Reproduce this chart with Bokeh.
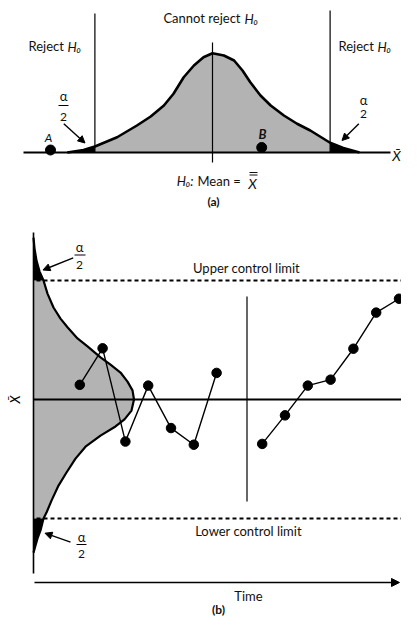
import numpy as np
from bokeh.plotting import figure
from bokeh.models import Range1d, Arrow, NormalHead
from bokeh.core.properties import value
from bokeh.embed import file_html
from bokeh.resources import INLINE

# ---------------- data ----------------
# panel (a): sampling distribution of the mean (z units, density)
curve_a_z = [-2.42, -2.15, -1.96, -1.59, -1.26, -1.03, -0.81, -0.65, -0.48, -0.31, -0.15, 0.0,
             0.19, 0.36, 0.50, 0.63, 0.80, 0.97, 1.19, 1.41, 1.63, 1.96, 2.18, 2.45]
curve_a_d = [0.0, 0.010, 0.024, 0.061, 0.108, 0.144, 0.188, 0.235, 0.301, 0.348, 0.381, 0.397,
             0.388, 0.368, 0.328, 0.281, 0.228, 0.188, 0.148, 0.115, 0.088, 0.039, 0.018, 0.0]
critical_z = [-1.96, 1.96]
sample_z = [-2.70, 0.82]
sample_d = [0.010, 0.020]
sample_labels = ["A", "B"]

# panel (b): control chart
times_1 = [1, 2, 3, 4, 5, 6, 7]
values_1 = [0.37, 1.29, -1.06, 0.35, -0.72, -1.14, 0.67]
times_2 = [9, 10, 11, 12, 13, 14, 15]
values_2 = [-1.12, -0.40, 0.35, 0.50, 1.28, 2.19, 2.54]
ucl, center, lcl = 3.0, 0.0, -3.0
# sideways distribution on the value axis (value, density)
side_v = [4.08, 3.81, 3.50, 3.23, 3.0, 2.67, 2.32, 2.04, 1.82, 1.54, 1.34, 1.06, 0.88, 0.68, 0.45,
          0.23, 0.0, -0.28, -0.50, -0.68, -0.91, -1.19, -1.49, -1.84, -2.17, -2.55, -2.85, -3.0,
          -3.30, -3.50, -3.68, -3.86]
side_d = [0.0, 0.004, 0.012, 0.024, 0.040, 0.056, 0.080, 0.108, 0.136, 0.176, 0.216, 0.268, 0.308,
          0.348, 0.376, 0.396, 0.402, 0.392, 0.364, 0.328, 0.268, 0.208, 0.168, 0.132, 0.100, 0.072,
          0.052, 0.040, 0.028, 0.016, 0.008, 0.0]

# ---------------- figure ----------------
W, H = 401, 617
X0, X1 = 0, 401
Y0, Y1 = 617, 0
p = figure(width=W, height=H, x_range=Range1d(X0, X1), y_range=Range1d(Y0, Y1),
           output_backend="svg", toolbar_location=None, min_border=0,
           x_axis_type=None, y_axis_type=None)
p.grid.visible = False
p.outline_line_color = None
p.background_fill_color = "white"

# data ranges laid over the frame
ax_c, ax_s = 212.0, 60.0      # panel a: z -> px
ay_b, ay_s = 152.0, 250.0     # panel a: density -> px
bt_0, bt_s = 79.3, 22.8       # panel b: time -> px
bv_0, bv_s = 399.0, 39.67     # panel b: value -> px
bd_0, bd_s = 33.0, 250.0      # panel b: density -> px
p.extra_x_ranges = {
    "a_x": Range1d((X0 - ax_c) / ax_s, (X1 - ax_c) / ax_s),
    "b_t": Range1d((X0 - bt_0) / bt_s + 1, (X1 - bt_0) / bt_s + 1),
    "b_d": Range1d((X0 - bd_0) / bd_s, (X1 - bd_0) / bd_s),
}
p.extra_y_ranges = {
    "a_y": Range1d((ay_b - Y0) / ay_s, (ay_b - Y1) / ay_s),
    "b_v": Range1d((bv_0 - Y0) / bv_s, (bv_0 - Y1) / bv_s),
}

GRAY = "#b3b3b3"
FONT = value("Lato")


def txt(x, y, s, size="13px", style="normal", align="center"):
    p.text(x=[x], y=[y], text=[s], text_font=FONT, text_font_size=size,
           text_font_style=style, text_align=align, text_baseline="middle", text_color="#111111")


def arrow(xs, ys, xe, ye, size=7):
    p.add_layout(Arrow(end=NormalHead(size=size, fill_color="black", line_color="black"),
                       x_start=xs, y_start=ys, x_end=xe, y_end=ye, line_width=1.4, line_color="black"))


# ---------------- panel (a) ----------------
za = np.array(curve_a_z)
da = np.array(curve_a_d)
lo, hi = critical_z
m_mid = (za >= lo) & (za <= hi)
m_left = za <= lo
m_right = za >= hi
p.varea(x=za[m_mid], y1=0, y2=da[m_mid], fill_color=GRAY, x_range_name="a_x", y_range_name="a_y")
p.varea(x=za[m_left], y1=0, y2=da[m_left], fill_color="black", x_range_name="a_x", y_range_name="a_y")
p.varea(x=za[m_right], y1=0, y2=da[m_right], fill_color="black", x_range_name="a_x", y_range_name="a_y")

# baseline
p.segment(x0=[23], y0=[152], x1=[390], y1=[152], line_color="black", line_width=2)
# critical value lines and mean line
p.segment(x0=critical_z, x1=critical_z, y0=[152, 152], y1=[13, 10], line_color="black",
          line_width=1.2, x_range_name="a_x")
p.segment(x0=[0], x1=[0], y0=[162], y1=[42], line_color="black", line_width=1.2, x_range_name="a_x")
p.line(x=za, y=da, line_color="black", line_width=2.6, x_range_name="a_x", y_range_name="a_y")
p.scatter(x=sample_z, y=sample_d, size=10, fill_color="black", line_color="black",
          x_range_name="a_x", y_range_name="a_y")

txt(240, 17, "Cannot reject", align="right")
txt(244, 18, "H₀", style="italic", align="left")
txt(28, 45, "Reject", align="left")
txt(67, 46, "H₀", style="italic", align="left")
txt(338, 45, "Reject", align="left")
txt(377, 46, "H₀", style="italic", align="left")
txt(396, 155, "X̄", size="14px", style="italic")
txt(48, 137, sample_labels[0], size="12px", style="italic")
txt(262, 133, sample_labels[1], size="13px", style="bold italic")
txt(193, 180, "H₀:", style="italic", align="right")
txt(197, 180, "Mean =", align="left")
txt(252, 183, "X", size="14px", style="italic")
p.segment(x0=[249, 249], x1=[257, 257], y0=[172, 174.5], y1=[172, 174.5], line_color="#111111",
          line_width=1)
txt(213, 201, "(a)", size="12px", style="bold")

# alpha/2 labels
txt(63, 95, "α", size="13px")
p.segment(x0=[58], y0=[105], x1=[68], y1=[105], line_color="black", line_width=1)
txt(63, 116, "2", size="12px")
arrow(63.3, 123.3, 84.5, 142.5)
txt(363, 99, "α", size="13px")
txt(363, 113, "2", size="12px")
arrow(358.3, 123.3, 341.5, 140)

# ---------------- panel (b) ----------------
sv = np.array(side_v)
sd = np.array(side_d)
b_mid = (sv <= ucl) & (sv >= lcl)
b_top = sv >= ucl
b_bot = sv <= lcl
p.harea(y=sv[b_mid], x1=0, x2=sd[b_mid], fill_color=GRAY, x_range_name="b_d", y_range_name="b_v")
p.harea(y=sv[b_top], x1=0, x2=sd[b_top], fill_color="black", x_range_name="b_d", y_range_name="b_v")
p.harea(y=sv[b_bot], x1=0, x2=sd[b_bot], fill_color="black", x_range_name="b_d", y_range_name="b_v")

# axes
p.segment(x0=[33], y0=[232], x1=[33], y1=[573], line_color="black", line_width=1.6)
arrow(34, 582, 399, 582, size=8)
# control limits and centre line
p.segment(x0=[36, 36], x1=[401, 401], y0=[ucl, lcl], y1=[ucl, lcl], line_color="black",
          line_width=2, line_dash="4 3", y_range_name="b_v")
p.segment(x0=[33], x1=[401], y0=[center], y1=[center], line_color="black", line_width=1.8,
          y_range_name="b_v")
# divider
p.segment(x0=[246.5], x1=[246.5], y0=[296], y1=[501], line_color="black", line_width=1.2)

p.line(x=sd, y=sv, line_color="black", line_width=2.2, x_range_name="b_d", y_range_name="b_v")

for tt, vv in ((times_1, values_1), (times_2, values_2)):
    p.line(x=tt, y=vv, line_color="black", line_width=1.4, x_range_name="b_t", y_range_name="b_v")
    p.scatter(x=tt, y=vv, size=9.5, fill_color="black", line_color="black",
              x_range_name="b_t", y_range_name="b_v")

txt(246, 267, "Upper control limit")
txt(248, 530, "Lower control limit")
txt(248, 595, "Time")
txt(218, 609, "(b)", size="12px", style="bold")
p.text(x=[14], y=[399], text=["X̄"], text_font=FONT, text_font_size="13px", text_font_style="italic",
       text_align="center", text_baseline="middle", angle=np.pi / 2)

txt(79, 246, "α", size="13px")
p.segment(x0=[74], y0=[254.5], x1=[85], y1=[254.5], line_color="black", line_width=1)
txt(79, 264, "2", size="12px")
arrow(72.7, 257.3, 42.5, 269.5)

txt(81, 536, "α", size="13px")
p.segment(x0=[76], y0=[544], x1=[86], y1=[544], line_color="black", line_width=1)
txt(81, 553, "2", size="12px")
arrow(70, 541.7, 44.5, 532.7)

open("out.html", "w").write(file_html(p, INLINE))
